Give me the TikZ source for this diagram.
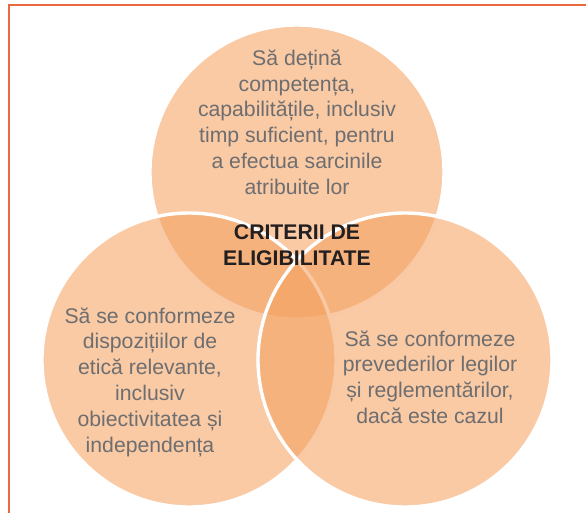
\documentclass[tikz,border=0pt]{standalone}
\usepackage{fontspec}
\setmainfont{Liberation Sans}
\definecolor{venn}{RGB}{244,161,95}
\definecolor{frameor}{RGB}{236,104,62}
\definecolor{txtgray}{RGB}{110,110,112}
\definecolor{txtdark}{RGB}{35,31,32}
\begin{document}
\begin{tikzpicture}[x=1pt,y=-1pt,
  vcircle/.style={fill=venn,fill opacity=0.57,draw=white,line width=3.4pt,draw opacity=1},
  vtext/.style={align=center,text=txtgray,font=\fontsize{21.2}{25.8}\selectfont,inner sep=0pt},
  ctext/.style={align=center,text=txtdark,font=\bfseries\fontsize{21.2}{26}\selectfont,inner sep=0pt}]
\useasboundingbox (0,0) rectangle (586,512);
\draw[frameor,line width=2pt] (9,520) -- (9,5) -- (600,5);
\node[vcircle,circle,minimum size=294pt,inner sep=0pt] (ctop) at (297,172) {};
\node[vcircle,circle,minimum size=294pt,inner sep=0pt] (cleft) at (189,360) {};
\node[vcircle,circle,minimum size=294pt,inner sep=0pt] (cright) at (405,360) {};
\node[vtext] (ttop) at (297,122) {Să dețină\\competența,\\capabilitățile, inclusiv\\timp suficient, pentru\\a efectua sarcinile\\atribuite lor};
\node[vtext] (tleft) at (150,382) {Să se conformeze\\dispozițiilor de\\etică relevante,\\inclusiv\\obiectivitatea și\\independența};
\node[vtext] (tright) at (430,377) {Să se conformeze\\prevederilor legilor\\și reglementărilor,\\dacă este cazul};
\node[ctext] (tcenter) at (297,245) {CRITERII DE\\ELIGIBILITATE};
\end{tikzpicture}
\end{document}
